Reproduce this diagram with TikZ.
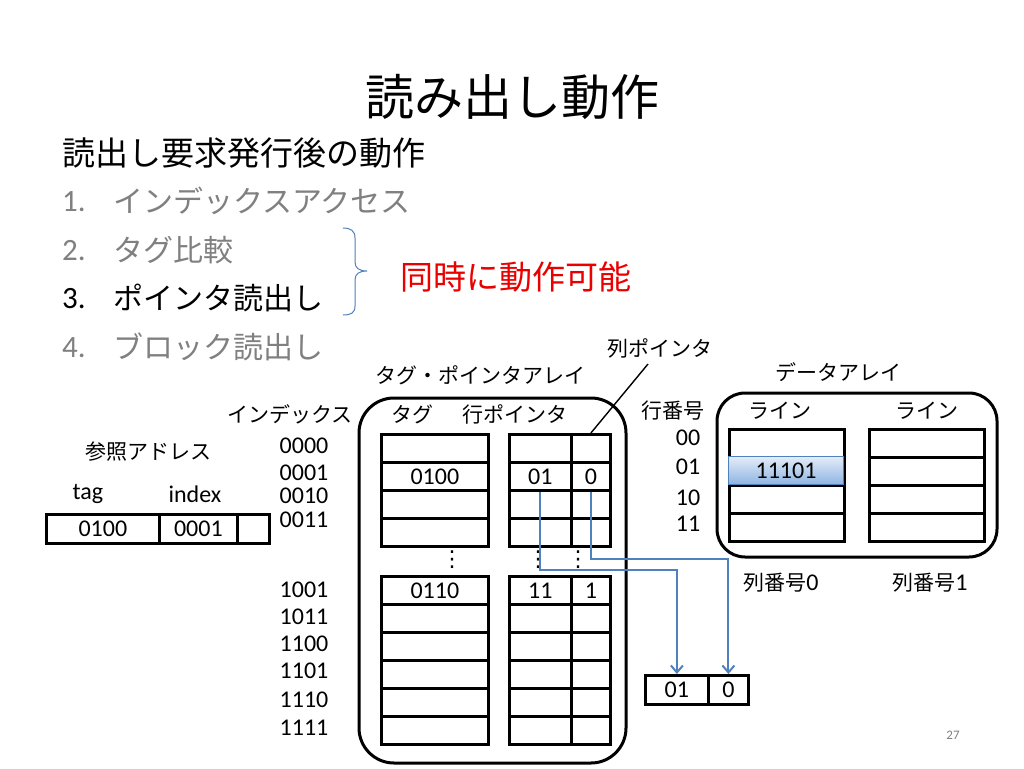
\documentclass[tikz,border=0pt]{standalone}
\usepackage{fontspec}
\setmainfont{Carlito}
\newfontfamily\jp{Noto Sans CJK JP}
\newfontfamily\dv{DejaVu Sans}
\usetikzlibrary{arrows.meta}
\definecolor{ptrblue}{RGB}{79,129,189}
\definecolor{itemgray}{RGB}{128,128,128}
\definecolor{redtxt}{RGB}{235,0,0}
\definecolor{hlbot}{RGB}{141,180,226}
\definecolor{hltop}{RGB}{228,236,248}
\begin{document}
\begin{tikzpicture}[x=1pt,y=-1pt,
  cell/.style={draw,line width=2.8pt,minimum width=#1,minimum height=28pt,inner sep=0pt,anchor=north west,font=\fontsize{24}{27}\selectfont},
  jpl/.style={font=\jp\fontsize{21}{24}\selectfont,inner sep=0pt},
  num/.style={font=\fontsize{24}{27}\selectfont,inner sep=0pt},
  itemnum/.style={font=\fontsize{31}{35}\selectfont,inner sep=0pt,anchor=west},
  itemtxt/.style={font=\jp\fontsize{30}{34}\selectfont,inner sep=0pt,anchor=west},
  ptr/.style={draw=ptrblue,line width=2pt,-{Straight Barb[length=7pt,width=12pt]}},
  frame/.style={draw,line width=3pt},
  vdots/.style={font=\dv\fontsize{22}{24}\selectfont,inner sep=0pt}]
\useasboundingbox (0,0) rectangle (1024,768);
\fill[white] (0,0) rectangle (1024,768);

% title and list
\node[font=\jp\fontsize{49}{54}\selectfont,inner sep=0pt] (title) at (512,97) {読み出し動作};
\node[font=\jp\fontsize{33}{38}\selectfont,inner sep=0pt,anchor=west] (head) at (62,153) {読出し要求発行後の動作};
\node[itemnum,text=itemgray] (n1) at (62,202) {1.};
\node[itemtxt,text=itemgray] (i1) at (113,201) {インデックスアクセス};
\node[itemnum,text=itemgray] (n2) at (62,251) {2.};
\node[itemtxt,text=itemgray] (i2) at (113,250) {タグ比較};
\node[itemnum] (n3) at (62,299) {3.};
\node[itemtxt] (i3) at (113,298) {ポインタ読出し};
\node[itemnum,text=itemgray] (n4) at (62,348) {4.};
\node[itemtxt,text=itemgray] (i4) at (113,347) {ブロック読出し};
\draw[ptrblue,line width=1pt] (343,228) .. controls (351,228) and (355,231) .. (355,238) -- (355,262)
  .. controls (355,268) and (359,271) .. (367,271) .. controls (359,271) and (355,274) .. (355,280)
  -- (355,306) .. controls (355,313) and (351,315) .. (343,315);
\node[font=\jp\fontsize{33}{38}\selectfont,inner sep=0pt,anchor=west,text=redtxt] (simul) at (400,277) {同時に動作可能};
\node[font=\fontsize{13}{15}\selectfont,text=itemgray,inner sep=0pt] (pg) at (953,735) {27};

% reference address
\node[jpl] (refaddr) at (148,452) {参照アドレス};
\node[num] (ltag) at (88,494) {tag};
\node[num] (lindex) at (195,494) {index};
\node[cell=113pt,minimum height=29pt] (a0) at (45,513) {0100};
\node[cell=78pt,minimum height=29pt] (a1) at (158,513) {0001};
\node[cell=32pt,minimum height=29pt] (a2) at (236,513) {};

% index labels
\node[jpl] (lidx) at (290,414) {インデックス};
\foreach \t/\y [count=\k] in {0000/446,0001/473,0010/496,0011/520,1001/590,1011/617,1100/644,1101/671,1110/700,1111/728}
  \node[num] (ix\k) at (304,\y) {\t};

% tag-pointer array
\node[jpl] (tparr) at (480,375) {タグ・ポインタアレイ};
\draw[frame,rounded corners=35pt] (359,398) rectangle (626,763);
\node[jpl] (ltg) at (412,414) {タグ};
\node[jpl] (lrp) at (515,414) {行ポインタ};
\node[jpl] (lcp) at (660,348) {列ポインタ};
\foreach \k/\y/\ta/\pa/\pb in {1/433///,2/461/0100/01/0,3/489///,4/517///,5/575/0110/11/1,6/603///,7/631///,8/659///,9/687///,10/715///}{
  \node[cell=107pt] (tg\k) at (380,\y) {\ta};
  \node[cell=62pt] (pa\k) at (508,\y) {\pa};
  \node[cell=39pt] (pb\k) at (570,\y) {\pb};
}
\node[vdots] (d1) at (452,560) {⋮};
\node[vdots] (d2) at (538,560) {⋮};
\node[vdots] (d3) at (578,560) {⋮};
\coordinate (leadend) at (648,364);
\draw[line width=1.4pt] (pb1.north) -- (leadend);

% data array
\node[jpl] (darr) at (838,372) {データアレイ};
\draw[frame,rounded corners=28pt] (717,393) rectangle (997,557);
\node[jpl] (lrn) at (673,411) {行番号};
\node[jpl] (lline0) at (780,411) {ライン};
\node[jpl] (lline1) at (927,411) {ライン};
\node[num] (rn0) at (688,438) {00};
\node[num] (rn1) at (688,467) {01};
\node[num] (rn2) at (688,498) {10};
\node[num] (rn3) at (688,524) {11};
\foreach \k/\y in {0/428,1/456,2/484,3/512}{
  \node[cell=115pt] (da\k) at (728,\y) {};
  \node[cell=115pt] (db\k) at (868,\y) {};
}
\node[cell=115pt,draw=ptrblue,line width=1pt,top color=hltop,bottom color=hlbot] (hl) at (728,456) {11101};
\node[jpl] (col0) at (781,583) {列番号\rmfamily\fontsize{24}{27}\selectfont 0};
\node[jpl] (col1) at (930,583) {列番号\rmfamily\fontsize{24}{27}\selectfont 1};

% row/column pointer result
\node[cell=63pt,minimum height=29pt] (ba) at (644,674) {01};
\node[cell=40pt,minimum height=29pt] (bb) at (707,674) {0};
\coordinate (h1) at (0,570);
\coordinate (h2) at (0,559);
\draw[ptr] (pa2.south) -- (pa2.south |- h1) -| (ba.north);
\draw[ptr] (pb2.south) -- (pb2.south |- h2) -| (bb.north);
\end{tikzpicture}
\end{document}
